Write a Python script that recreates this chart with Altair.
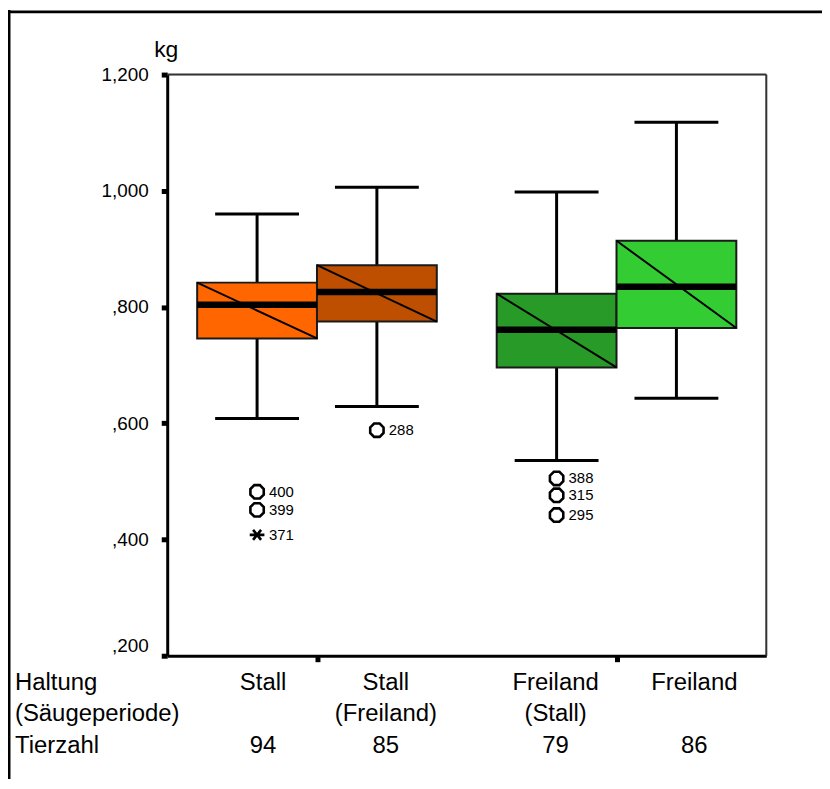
import altair as alt
import pandas as pd

# ---- data ----
haltung = ["Stall", "Stall", "Freiland", "Freiland"]
saeugeperiode = ["", "(Freiland)", "(Stall)", ""]
tierzahl = [94, 85, 79, 86]
cluster = [0, 0, 1, 1]          # Haltung group
sub = [0, 1, 0, 1]              # box within group
whisker_lo = [0.608, 0.629, 0.536, 0.643]
q1 = [0.746, 0.775, 0.696, 0.764]
median = [0.804, 0.826, 0.761, 0.835]
q3 = [0.842, 0.872, 0.823, 0.914]
whisker_hi = [0.960, 1.006, 0.998, 1.118]
box_colors = ["#FF6600", "#BF4F00", "#289A28", "#33CC33"]

out_box = [0, 0, 0, 1, 2, 2, 2]
out_value = [0.482, 0.451, 0.408, 0.588, 0.505, 0.476, 0.442]
out_id = ["400", "399", "371", "288", "388", "315", "295"]
out_kind = ["o", "o", "*", "o", "o", "o", "o"]

y_ticks = [0.2, 0.4, 0.6, 0.8, 1.0, 1.2]
row_headers = ["Haltung", "(Säugeperiode)", "Tierzahl"]

# ---- layout ----
W, H = 602, 584
PAD_B = 124
HALF = 0.4
CAP = 0.28
PX = W / 4.0
label_dx = [6, 9, -1, 18]
FONT = "Liberation Sans"

keys = [f"b{i}" for i in range(4)]
pos = [1 + 2 * c + (HALF if s else -HALF) for c, s in zip(cluster, sub)]
df = pd.DataFrame({
    "key": keys, "pos": pos,
    "box_l": [p - HALF for p in pos], "box_r": [p + HALF for p in pos],
    "cap_l": [p - CAP for p in pos], "cap_r": [p + CAP for p in pos],
    "lab_x": [p + d / PX for p, d in zip(pos, label_dx)],
    "lo": whisker_lo, "q1": q1, "med": median, "q3": q3, "hi": whisker_hi,
    "haltung": haltung, "saeuge": saeugeperiode, "n": [str(v) for v in tierzahl],
})
dfo = pd.DataFrame({
    "pos": [pos[i] for i in out_box], "value": out_value,
    "id": out_id, "kind": out_kind,
})

xs = alt.Scale(domain=[0, 4], nice=False, zero=False)
ys = alt.Scale(domain=[0.2, 1.2], nice=False, zero=False)

base = alt.Chart(df)
X = lambda f, **k: alt.X(f"{f}:Q", scale=xs, **k)
Y = lambda f, **k: alt.Y(f"{f}:Q", scale=ys, **k)

y_axis = alt.Axis(
    values=y_ticks, title=None, grid=False,
    labelExpr="datum.value < 1 ? replace(format(datum.value, '.3f'), '0.', ',') : replace(format(datum.value, '.3f'), '.', ',')",
    labelFont=FONT, labelFontSize=19, labelColor="black", labelPadding=13,
    labelOffset={"condition": {"test": "datum.value < 0.3", "value": -10}, "value": 0},
    tickSize=6, tickWidth=5, tickColor="black", domainColor="black", domainWidth=3,
)
x_axis = alt.Axis(
    values=[1, 3], title=None, grid=False, labels=False,
    tickSize=6, tickWidth=5, tickColor="black", domainColor="black", domainWidth=3,
)

one = pd.DataFrame({"a": [0]})
border_top = alt.Chart(one).mark_rule(color="#333", strokeWidth=2).encode(
    x=alt.value(0), x2=alt.value(W), y=alt.value(0))
border_right = alt.Chart(one).mark_rule(color="#333", strokeWidth=2).encode(
    x=alt.value(W), y=alt.value(0), y2=alt.value(H))

whisk_lo = base.mark_rule(color="black", strokeWidth=3).encode(
    x=X("pos", axis=x_axis), y=Y("lo", axis=y_axis), y2="q1:Q")
whisk_hi = base.mark_rule(color="black", strokeWidth=3).encode(
    x=X("pos"), y=Y("q3"), y2="hi:Q")
cap_lo = base.mark_rule(color="black", strokeWidth=3).encode(
    x=X("cap_l"), x2="cap_r:Q", y=Y("lo"))
cap_hi = base.mark_rule(color="black", strokeWidth=3).encode(
    x=X("cap_l"), x2="cap_r:Q", y=Y("hi"))
boxes = base.mark_rect(stroke="#1a1a1a", strokeWidth=2, opacity=1).encode(
    x=X("box_l"), x2="box_r:Q", y=Y("q1"), y2="q3:Q",
    fill=alt.Fill("key:N", scale=alt.Scale(domain=keys, range=box_colors), legend=None))
diag = base.mark_rule(color="black", strokeWidth=2).encode(
    x=X("box_l"), x2="box_r:Q", y=Y("q3"), y2="q1:Q")
med = base.mark_rule(color="black", strokeWidth=6.5).encode(
    x=X("box_l"), x2="box_r:Q", y=Y("med"))

octagon = "M-0.42,-1L0.42,-1L1,-0.42L1,0.42L0.42,1L-0.42,1L-1,0.42L-1,-0.42Z"
star = "M-1.1,0L1.1,0M-0.6,-0.75L0.6,0.75M-0.6,0.75L0.6,-0.75"
pts = alt.Chart(dfo).mark_point(filled=False, color="black", strokeWidth=2.6, size=180, opacity=1).encode(
    x=X("pos"), y=Y("value"),
    shape=alt.Shape("kind:N", scale=alt.Scale(domain=["o", "*"], range=[octagon, star]), legend=None))
pt_lab = alt.Chart(dfo).mark_text(align="left", baseline="middle", dx=12, fontSize=15, font=FONT, color="black").encode(
    x=X("pos"), y=Y("value"), text="id:N")

def row_text(field, yy):
    return base.mark_text(align="center", baseline="middle", fontSize=24, font=FONT, color="black").encode(
        x=X("lab_x"), y=alt.value(yy), text=f"{field}:N")

rows_y = [611, 643, 675]
cat_rows = [row_text("haltung", rows_y[0]), row_text("saeuge", rows_y[1]), row_text("n", rows_y[2])]

headers = [
    alt.Chart(one).mark_text(align="left", baseline="middle", fontSize=24, font=FONT, color="black").encode(
        x=alt.value(-153), y=alt.value(yy), text=alt.value(t))
    for t, yy in zip(row_headers, rows_y)
]
kg = alt.Chart(one).mark_text(align="center", baseline="middle", fontSize=23, font=FONT, color="black").encode(
    x=alt.value(-1), y=alt.value(-25), text=alt.value("kg"))

frame_left = alt.Chart(one).mark_rule(color="black", strokeWidth=3).encode(
    x=alt.value(-159), y=alt.value(-65), y2=alt.value(H + PAD_B))
frame_top = alt.Chart(one).mark_rule(color="black", strokeWidth=3).encode(
    x=alt.value(-160), x2=alt.value(W + 56), y=alt.value(-63))

chart = alt.layer(
    border_top, border_right,
    whisk_lo, whisk_hi, cap_lo, cap_hi, boxes, diag, med, pts, pt_lab,
    *cat_rows, *headers, kg, frame_left, frame_top,
).properties(
    width=W, height=H, autosize="none",
    padding={"left": 160, "top": 65, "right": 56, "bottom": PAD_B},
).configure_view(
    strokeWidth=0,
).configure(background="white")

chart.save("out.html", embed_options={"renderer": "svg", "actions": False})
